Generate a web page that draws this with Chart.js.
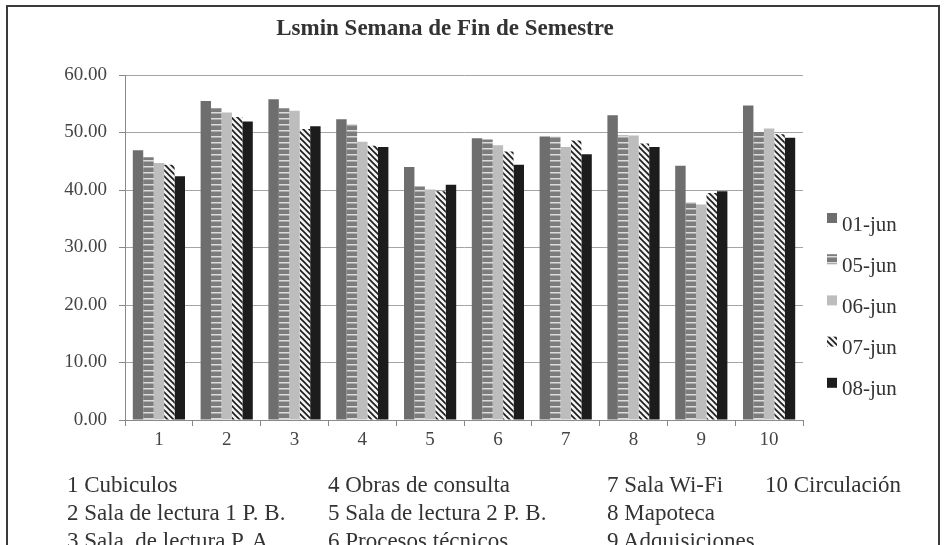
<!DOCTYPE html>
<html>
<head>
<meta charset="utf-8">
<script src="https://cdn.jsdelivr.net/npm/chart.js@4.4.1/dist/chart.umd.min.js"></script>
<style>
  html, body { margin: 0; padding: 0; background: #fff; }
  #wrap { position: relative; width: 945px; height: 545px; overflow: hidden; font-family: "Liberation Serif", serif; color: #333; }
  #frame { position: absolute; left: 6px; top: 5px; width: 934px; height: 600px; border: 2px solid #3a3a3a; box-sizing: border-box; }
  canvas { position: absolute; left: 0; top: 0; }
  .title { position: absolute; left: 0; width: 890px; top: 15px; text-align: center; font-weight: bold; font-size: 23px; }
  .note { position: absolute; font-size: 23px; white-space: pre; line-height: 28px; }
</style>
</head>
<body>
<div id="wrap">
  <div id="frame"></div>
  <canvas id="chart" width="945" height="545"></canvas>
  <div class="title">Lsmin Semana de Fin de Semestre</div>
  <div class="note" style="left:67px; top:471px;">1 Cubiculos
2 Sala de lectura 1 P. B.
3 Sala  de lectura P. A.</div>
  <div class="note" style="left:328px; top:471px;">4 Obras de consulta
5 Sala de lectura 2 P. B.
6 Procesos técnicos</div>
  <div class="note" style="left:607px; top:471px;">7 Sala Wi-Fi
8 Mapoteca
9 Adquisiciones</div>
  <div class="note" style="left:765px; top:471px;">10 Circulación</div>
</div>
<script>
const categories = ["1", "2", "3", "4", "5", "6", "7", "8", "9", "10"];
const seriesNames = ["01-jun", "05-jun", "06-jun", "07-jun", "08-jun"];

const jun01 = [46.9, 55.5, 55.8, 52.3, 44.0, 49.0, 49.3, 53.0, 44.2, 54.7];
const jun05 = [45.7, 54.2, 54.2, 51.5, 40.6, 48.8, 49.3, 49.5, 37.9, 50.1];
const jun06 = [44.7, 53.5, 53.8, 48.4, 40.1, 47.8, 47.5, 49.5, 37.5, 50.7];
const jun07 = [44.4, 52.7, 50.6, 47.7, 39.8, 46.7, 48.6, 48.1, 39.5, 49.7];
const jun08 = [42.4, 51.9, 51.1, 47.5, 40.9, 44.4, 46.2, 47.5, 39.8, 49.1];

const yTicks = [0, 10, 20, 30, 40, 50, 60];

function makePattern(w, h, draw) {
  const c = document.createElement("canvas");
  c.width = w;
  c.height = h;
  const g = c.getContext("2d");
  draw(g, w, h);
  return g.createPattern(c, "repeat");
}

const solidDark = "#6e6e6e";
const hLines = makePattern(6, 6, (g, w, h) => {
  g.fillStyle = "#7c7c7c";
  g.fillRect(0, 0, w, h);
  g.fillStyle = "#dcdcdc";
  g.fillRect(0, 4, w, 1.5);
});
const lightGray = "#bdbdbd";
const diag = makePattern(6, 6, (g, w, h) => {
  g.fillStyle = "#f2f2f2";
  g.fillRect(0, 0, w, h);
  g.strokeStyle = "#1a1a1a";
  g.lineWidth = 1.6;
  g.beginPath();
  g.moveTo(0, 0); g.lineTo(w, h);
  g.moveTo(-1, h - 1); g.lineTo(1, h + 1);
  g.moveTo(w - 1, -1); g.lineTo(w + 1, 1);
  g.stroke();
});
const solidBlack = "#1c1c1c";

const fills = [solidDark, hLines, lightGray, diag, solidBlack];
const values = [jun01, jun05, jun06, jun07, jun08];

const serif = "'Liberation Serif', 'DejaVu Serif', serif";

const legendPlugin = {
  id: "sideLegend",
  afterDraw(chart) {
    const ctx = chart.ctx;
    ctx.save();
    ctx.font = `21px ${serif}`;
    ctx.textBaseline = "middle";
    chart.data.datasets.forEach((ds, i) => {
      const yc = 225 + i * 41.2;
      ctx.fillStyle = ds.backgroundColor;
      ctx.fillRect(827, yc - 12, 10, 10);
      ctx.fillStyle = "#333";
      ctx.fillText(ds.label, 842, yc);
    });
    ctx.restore();
  }
};

new Chart(document.getElementById("chart"), {
  type: "bar",
  data: {
    labels: categories,
    datasets: seriesNames.map((name, i) => ({
      label: name,
      data: values[i],
      backgroundColor: fills[i],
      borderWidth: 0,
      barPercentage: 1,
      categoryPercentage: 0.77
    }))
  },
  options: {
    responsive: false,
    animation: false,
    layout: { padding: { left: 0, top: 75, right: 142, bottom: 95 } },
    plugins: {
      legend: { display: false },
      title: { display: false },
      tooltip: { enabled: false }
    },
    scales: {
      x: {
        offset: true,
        grid: { offset: true, drawOnChartArea: false, drawTicks: true, tickLength: 6, color: "#888" },
        border: { color: "#8a8a8a", width: 1 },
        ticks: { color: "#444", font: { family: serif, size: 19 }, padding: 3 },
        afterFit(scale) { scale.height = 30; }
      },
      y: {
        min: 0,
        max: 60,
        afterBuildTicks(scale) { scale.ticks = yTicks.map(v => ({ value: v })); },
        grid: { color: "#a4a4a4", lineWidth: 1, tickLength: 6, tickColor: "#888" },
        border: { color: "#8a8a8a", width: 1 },
        ticks: {
          color: "#444",
          font: { family: serif, size: 19 },
          padding: 12,
          callback: v => Number(v).toFixed(2)
        },
        afterFit(scale) { scale.width = 125; }
      }
    }
  },
  plugins: [legendPlugin]
});
</script>
</body>
</html>
